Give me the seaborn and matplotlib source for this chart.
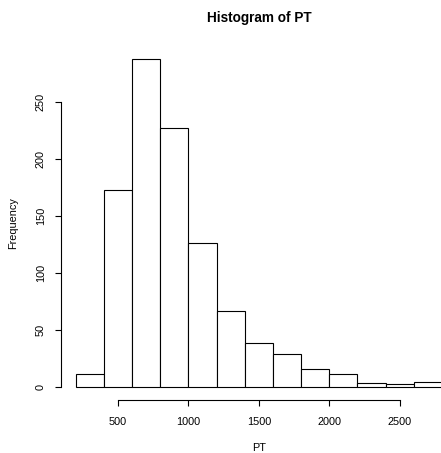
import matplotlib
matplotlib.use("Agg")
import matplotlib.pyplot as plt
import seaborn as sns
import numpy as np

# Histogram bins of PT and their frequencies
bin_edges = [200, 400, 600, 800, 1000, 1200, 1400, 1600, 1800, 2000, 2200, 2400, 2600, 2800]
frequencies = [12, 173, 287, 227, 126, 67, 39, 29, 16, 12, 4, 3, 5]
x_ticks = [500, 1000, 1500, 2000, 2500]
y_ticks = [0, 50, 100, 150, 200, 250]

sns.set_style("white")
plt.rcParams["font.family"] = ["Liberation Sans", "DejaVu Sans"]
plt.rcParams["text.color"] = "black"
plt.rcParams["axes.labelcolor"] = "black"
plt.rcParams["xtick.color"] = "black"
plt.rcParams["ytick.color"] = "black"

fig = plt.figure(figsize=(4.41, 4.53), dpi=100)
ax = fig.add_axes([61 / 441, 1 - 400.4 / 453, 395.7 / 441, 355.3 / 453])

mids = [(a + b) / 2 for a, b in zip(bin_edges[:-1], bin_edges[1:])]
sns.histplot(x=mids, weights=frequencies, bins=bin_edges, ax=ax,
             color="white", edgecolor="black", linewidth=0.8, alpha=1)

ax.set_xlim(96, 2904)
ax.set_ylim(-11.5, 299.5)

for s in ["top", "right"]:
    ax.spines[s].set_visible(False)
ax.spines["left"].set_bounds(0, 250)
ax.spines["bottom"].set_bounds(500, 2500)
for s in ["left", "bottom"]:
    ax.spines[s].set_color("black")
    ax.spines[s].set_linewidth(0.8)

ax.set_xticks(x_ticks)
ax.set_yticks(y_ticks)
ax.set_yticklabels([str(v) for v in y_ticks], rotation=90, va="center")
ax.tick_params(axis="both", which="both", direction="out", length=4.3, width=0.8,
               color="black", labelsize=7.8, labelcolor="black", bottom=True, left=True)
ax.tick_params(axis="x", pad=7.5)
ax.tick_params(axis="y", pad=6.5)

ax.set_xlabel("PT", fontsize=7.8, labelpad=11.5, color="black")
ax.set_ylabel("Frequency", fontsize=7.8, labelpad=13, color="black")
ax.set_title("Histogram of PT", fontsize=9.8, fontweight="bold", pad=16.6, color="black")

fig.savefig("out.png", dpi=100)
